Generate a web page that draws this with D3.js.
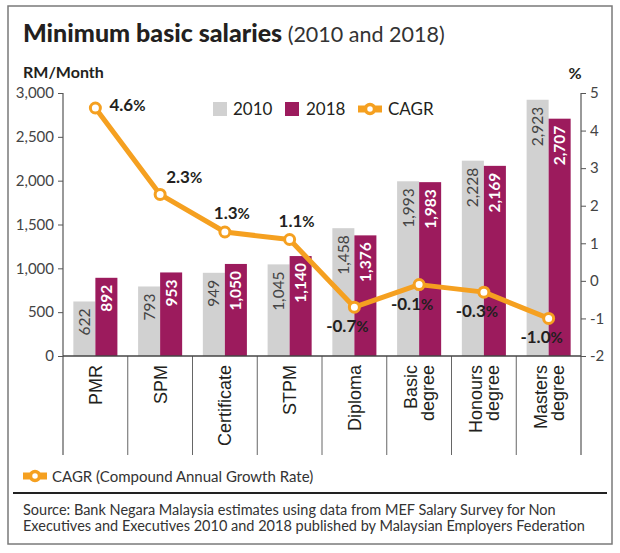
<!DOCTYPE html>
<html>
<head>
<meta charset="utf-8">
<script src="https://cdn.jsdelivr.net/npm/d3@7"></script>
<style>
  body { margin: 0; background: #fff; }
  svg { display: block; }
</style>
</head>
<body>
<script>
// data
const categories = ["PMR", "SPM", "Certificate", "STPM", "Diploma", "Basic degree", "Honours degree", "Masters degree"];
const salary2010 = [622, 793, 949, 1045, 1458, 1993, 2228, 2923];
const salary2018 = [892, 953, 1050, 1140, 1376, 1983, 2169, 2707];
const cagr = [4.6, 2.3, 1.3, 1.1, -0.7, -0.1, -0.3, -1.0];
const years = ["2010", "2018"];
const leftTicks = [0, 500, 1000, 1500, 2000, 2500, 3000];
const rightTicks = [-2, -1, 0, 1, 2, 3, 4, 5];
// where each CAGR label sits relative to its point
const cagrLabelAt = ["right", "upRight", "up", "up", "down", "down", "down", "down"];

const width = 620, height = 553;
const grey = "#d1d1d1", plum = "#9c1b5d", orange = "#f5a020", ink = "#231f20";
const font = "Lato, 'Open Sans', sans-serif";

let svg = d3.select("body").append("svg")
  .attr("width", width).attr("height", height);
svg.append("rect").attr("width", width).attr("height", height).attr("fill", "#fff");

// outer frame
svg.append("rect")
  .attr("x", 8).attr("y", 6).attr("width", 604).attr("height", 538)
  .attr("fill", "none").attr("stroke", "#7a7a7a").attr("stroke-width", 1.5);

// title
let title = svg.append("text").attr("x", 23).attr("y", 42)
  .style("font-family", font).style("fill", ink);
title.append("tspan").text("Minimum basic salaries")
  .style("font-weight", 900).style("font-size", "25px");
title.append("tspan").text(" (2010 and 2018)")
  .style("font-weight", 400).style("font-size", "21.5px").style("fill", "#333");

// axis titles
svg.append("text").text("RM/Month").attr("x", 23).attr("y", 78)
  .style("font-family", font).style("font-weight", 700).style("font-size", "16px").style("fill", ink);
svg.append("text").text("%").attr("x", 575).attr("y", 79).attr("text-anchor", "middle")
  .style("font-family", font).style("font-weight", 700).style("font-size", "16px").style("fill", ink);

// scales
const plotTop = 93, base = 356, labelBottom = 455;
let x = d3.scaleBand().domain(categories).range([63, 581]);
let x1 = d3.scaleBand().domain(years).range([0, x.bandwidth()]).paddingOuter(0.47);
let y = d3.scaleLinear().domain([0, 3000]).range([base, plotTop]);
let yR = d3.scaleLinear().domain([-2, 5]).range([base, plotTop]);

// left axis
let axL = svg.append("g").attr("transform", "translate(63,0)")
  .call(d3.axisLeft(y).tickValues(leftTicks).tickFormat(d3.format(",")).tickSize(5).tickPadding(4).tickSizeOuter(0));
axL.select(".domain").remove();
axL.selectAll("line").attr("stroke", "#555");
axL.selectAll("text").style("font-family", font).style("font-size", "15px").style("fill", "#444");

// right axis (plain hyphen for negatives, like the original)
let axR = svg.append("g").attr("transform", "translate(581,0)")
  .call(d3.axisRight(yR).tickValues(rightTicks).tickFormat(d => String(d)).tickSize(5).tickPadding(4).tickSizeOuter(0));
axR.select(".domain").remove();
axR.selectAll("line").attr("stroke", "#555");
axR.selectAll("text").style("font-family", font).style("font-size", "15px").style("fill", "#444");

// frame lines of the plot and category cells
svg.append("line").attr("x1", 63).attr("x2", 63).attr("y1", plotTop).attr("y2", labelBottom)
  .attr("stroke", "#555").attr("stroke-width", 1.2);
svg.append("line").attr("x1", 581).attr("x2", 581).attr("y1", plotTop).attr("y2", labelBottom)
  .attr("stroke", "#555").attr("stroke-width", 1.2);
svg.append("g").selectAll("line")
  .data(categories.slice(1))
  .enter().append("line")
  .attr("x1", d => x(d)).attr("x2", d => x(d))
  .attr("y1", base).attr("y2", labelBottom)
  .attr("stroke", "#666").attr("stroke-width", 1);

// bars
let rows = categories.map((c, i) => ({ cat: c, v: [salary2010[i], salary2018[i]] }));
let groups = svg.append("g").selectAll("g")
  .data(rows).enter().append("g")
  .attr("transform", d => "translate(" + x(d.cat) + ",0)");

groups.selectAll("rect")
  .data(d => years.map((yr, j) => ({ yr: yr, v: d.v[j] })))
  .enter().append("rect")
  .attr("x", d => x1(d.yr))
  .attr("width", x1.bandwidth())
  .attr("y", d => y(d.v))
  .attr("height", d => base - y(d.v))
  .attr("fill", d => d.yr === "2010" ? grey : plum);

groups.selectAll("text")
  .data(d => years.map((yr, j) => ({ yr: yr, v: d.v[j] })))
  .enter().append("text")
  .attr("transform", d => "translate(" + (x1(d.yr) + x1.bandwidth() / 2) + "," + (y(d.v) + 7) + ") rotate(-90)")
  .attr("text-anchor", "end")
  .attr("dy", "0.36em")
  .text(d => d3.format(",")(d.v))
  .style("font-family", font)
  .style("font-size", "15.5px")
  .style("font-weight", d => d.yr === "2010" ? 400 : 700)
  .style("fill", d => d.yr === "2010" ? "#444" : "#fff");

// baseline
svg.append("line").attr("x1", 63).attr("x2", 581).attr("y1", base).attr("y2", base)
  .attr("stroke", "#444").attr("stroke-width", 1.3);

// category labels
let catLabels = svg.append("g").selectAll("text")
  .data(categories).enter().append("text")
  .attr("transform", d => "translate(" + (x(d) + x.bandwidth() / 2) + ",365) rotate(-90)")
  .attr("text-anchor", "end")
  .style("font-family", "'Liberation Sans', Arial, sans-serif")
  .style("font-size", "18px")
  .style("fill", ink);
catLabels.each(function(d) {
  let parts = d.split(" ");
  let t = d3.select(this);
  parts.forEach((p, k) => {
    t.append("tspan").attr("x", 0)
      .attr("y", (k - (parts.length - 1) / 2) * 17)
      .attr("dy", "0.36em")
      .text(p);
  });
});

// CAGR line
let line = d3.line()
  .x((d, i) => x(categories[i]) + x.bandwidth() / 2)
  .y(d => yR(d));
svg.append("path").datum(cagr)
  .attr("d", line)
  .attr("fill", "none").attr("stroke", orange)
  .attr("stroke-width", 5).attr("stroke-linejoin", "round");
svg.append("g").selectAll("circle")
  .data(cagr).enter().append("circle")
  .attr("cx", (d, i) => x(categories[i]) + x.bandwidth() / 2)
  .attr("cy", d => yR(d))
  .attr("r", 5)
  .attr("fill", "#fff").attr("stroke", orange).attr("stroke-width", 3);

// CAGR value labels
let cl = svg.append("g").selectAll("text")
  .data(cagr).enter().append("text")
  .attr("x", (d, i) => {
    let px = x(categories[i]) + x.bandwidth() / 2;
    let at = cagrLabelAt[i];
    if (at === "right") return px + 14;
    if (at === "upRight") return px + 6;
    if (at === "up") return px + 7;
    return px - 7;
  })
  .attr("y", (d, i) => {
    let py = yR(d);
    let at = cagrLabelAt[i];
    if (at === "right") return py + 3;
    if (at === "upRight") return py - 11;
    if (at === "up") return py - 13;
    return py + 25;
  })
  .attr("text-anchor", (d, i) => (cagrLabelAt[i] === "right" || cagrLabelAt[i] === "upRight") ? "start" : "middle")
  .style("font-family", font).style("font-weight", 700).style("fill", ink);
cl.append("tspan").text(d => d.toFixed(1)).style("font-size", "17px");
cl.append("tspan").text("%").style("font-size", "15px");

// legend at top
let leg = svg.append("g").attr("transform", "translate(213,109)");
leg.append("rect").attr("x", 0).attr("y", -7).attr("width", 14).attr("height", 14).attr("fill", grey);
leg.append("text").text("2010").attr("x", 20).attr("y", 6)
  .style("font-family", font).style("font-size", "17px").style("fill", ink);
leg.append("rect").attr("x", 72).attr("y", -7).attr("width", 14).attr("height", 14).attr("fill", plum);
leg.append("text").text("2018").attr("x", 93).attr("y", 6)
  .style("font-family", font).style("font-size", "17px").style("fill", ink);
leg.append("line").attr("x1", 145).attr("x2", 169).attr("y1", 0).attr("y2", 0)
  .attr("stroke", orange).attr("stroke-width", 7);
leg.append("circle").attr("cx", 157).attr("cy", 0).attr("r", 4.5)
  .attr("fill", "#fff").attr("stroke", orange).attr("stroke-width", 3.5);
leg.append("text").text("CAGR").attr("x", 175).attr("y", 6)
  .style("font-family", font).style("font-size", "17px").style("fill", ink);

// footer legend
let foot = svg.append("g").attr("transform", "translate(23,476)");
foot.append("line").attr("x1", 0).attr("x2", 24).attr("y1", 0).attr("y2", 0)
  .attr("stroke", orange).attr("stroke-width", 7);
foot.append("circle").attr("cx", 12).attr("cy", 0).attr("r", 4.5)
  .attr("fill", "#fff").attr("stroke", orange).attr("stroke-width", 3.5);
foot.append("text").text("CAGR (Compound Annual Growth Rate)").attr("x", 29).attr("y", 5.5)
  .style("font-family", font).style("font-size", "15px").style("fill", "#333");

// rule and source
svg.append("line").attr("x1", 13).attr("x2", 607).attr("y1", 493).attr("y2", 493)
  .attr("stroke", "#222").attr("stroke-width", 2);
let src = svg.append("text").attr("x", 23)
  .style("font-family", font).style("font-size", "14.5px").style("fill", "#333");
src.append("tspan").attr("x", 23).attr("y", 515)
  .text("Source: Bank Negara Malaysia estimates using data from MEF Salary Survey for Non");
src.append("tspan").attr("x", 23).attr("y", 531)
  .text("Executives and Executives 2010 and 2018 published by Malaysian Employers Federation");
</script>
</body>
</html>
